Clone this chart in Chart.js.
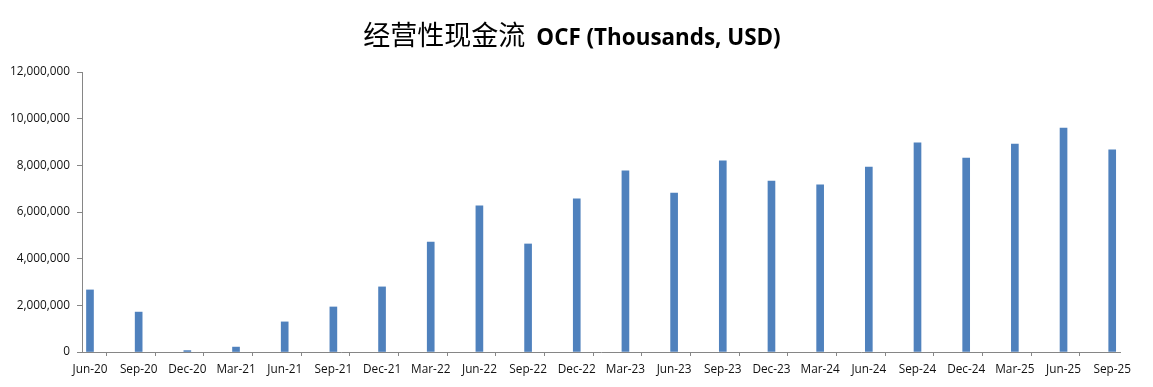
<!DOCTYPE html>
<html>
<head>
<meta charset="utf-8">
<script src="https://cdn.jsdelivr.net/npm/chart.js@4.4.0/dist/chart.umd.min.js"></script>
<style>
  body { margin: 0; background: #fff; }
  #wrap { width: 1153px; height: 387px; }
</style>
</head>
<body>
<div id="wrap"><canvas id="ocf" width="1153" height="387"></canvas></div>
<script>
const titleCn = '经营性现金流';
const titleEn = 'OCF (Thousands, USD)';

const quarters = ['Jun-20', 'Sep-20', 'Dec-20', 'Mar-21', 'Jun-21', 'Sep-21', 'Dec-21', 'Mar-22',
  'Jun-22', 'Sep-22', 'Dec-22', 'Mar-23', 'Jun-23', 'Sep-23', 'Dec-23', 'Mar-24',
  'Jun-24', 'Sep-24', 'Dec-24', 'Mar-25', 'Jun-25', 'Sep-25'];

// thousands of USD
const ocf = [2660000, 1710000, 60000, 210000, 1290000, 1930000, 2790000, 4710000,
  6260000, 4630000, 6560000, 7760000, 6810000, 8190000, 7330000, 7160000,
  7930000, 8960000, 8310000, 8910000, 9600000, 8660000];

const yTicks = [0, 2000000, 4000000, 6000000, 8000000, 10000000, 12000000];

const axisGray = '#868686';
const tickFont = { family: 'Open Sans', size: 11.8 };
const tickShift = 0.164;   // Excel date axis: tick mark sits a bit left of each bar

// two-font title drawn on top
const titlePlugin = {
  id: 'twoFontTitle',
  afterDraw(chart) {
    const ctx = chart.ctx;
    ctx.save();
    ctx.textBaseline = 'alphabetic';
    ctx.fillStyle = '#000';
    const cnFont = '400 27px "Noto Sans CJK SC"';
    const enFont = 'bold 22.4px "Open Sans"';
    ctx.font = cnFont;
    const wCn = ctx.measureText(titleCn).width;
    ctx.font = enFont;
    const wEn = ctx.measureText(titleEn).width;
    const gap = 11;
    let x = 572 - (wCn + gap + wEn) / 2;
    ctx.font = cnFont;
    ctx.fillText(titleCn, x, 45);
    ctx.font = enFont;
    ctx.fillText(titleEn, x + wCn + gap, 45);
    ctx.restore();
  }
};

new Chart(document.getElementById('ocf'), {
  type: 'bar',
  data: {
    datasets: [{
      label: 'OCF',
      data: ocf.map((v, i) => ({ x: i, y: v })),
      backgroundColor: '#4F81BD',
      barThickness: 7
    }]
  },
  options: {
    responsive: false,
    animation: false,
    layout: { padding: { top: 72, right: 33, left: 0, bottom: 0 } },
    plugins: { legend: { display: false }, tooltip: { enabled: false } },
    scales: {
      x: {
        type: 'linear',
        offset: false,
        min: -tickShift,
        max: 21.16,
        afterBuildTicks(scale) {
          scale.ticks = quarters.map((q, i) => ({ value: i - tickShift }));
        },
        afterFit(scale) { scale.height = 35; },
        ticks: {
          autoSkip: false,
          maxRotation: 0,
          labelOffset: 8,
          padding: 7,
          color: '#111',
          font: tickFont,
          callback: (v, idx) => quarters[idx]
        },
        grid: { drawOnChartArea: false, tickLength: 4, color: axisGray },
        border: { color: axisGray, width: 1 }
      },
      y: {
        min: 0,
        max: 12000000,
        afterBuildTicks(scale) {
          scale.ticks = yTicks.map(v => ({ value: v }));
        },
        afterFit(scale) { scale.width = 82; },
        ticks: {
          padding: 7,
          color: '#111',
          font: tickFont,
          callback: v => v.toLocaleString('en-US')
        },
        grid: { drawOnChartArea: false, tickLength: 5, color: axisGray },
        border: { color: axisGray, width: 1 }
      }
    }
  },
  plugins: [titlePlugin]
});
</script>
</body>
</html>
